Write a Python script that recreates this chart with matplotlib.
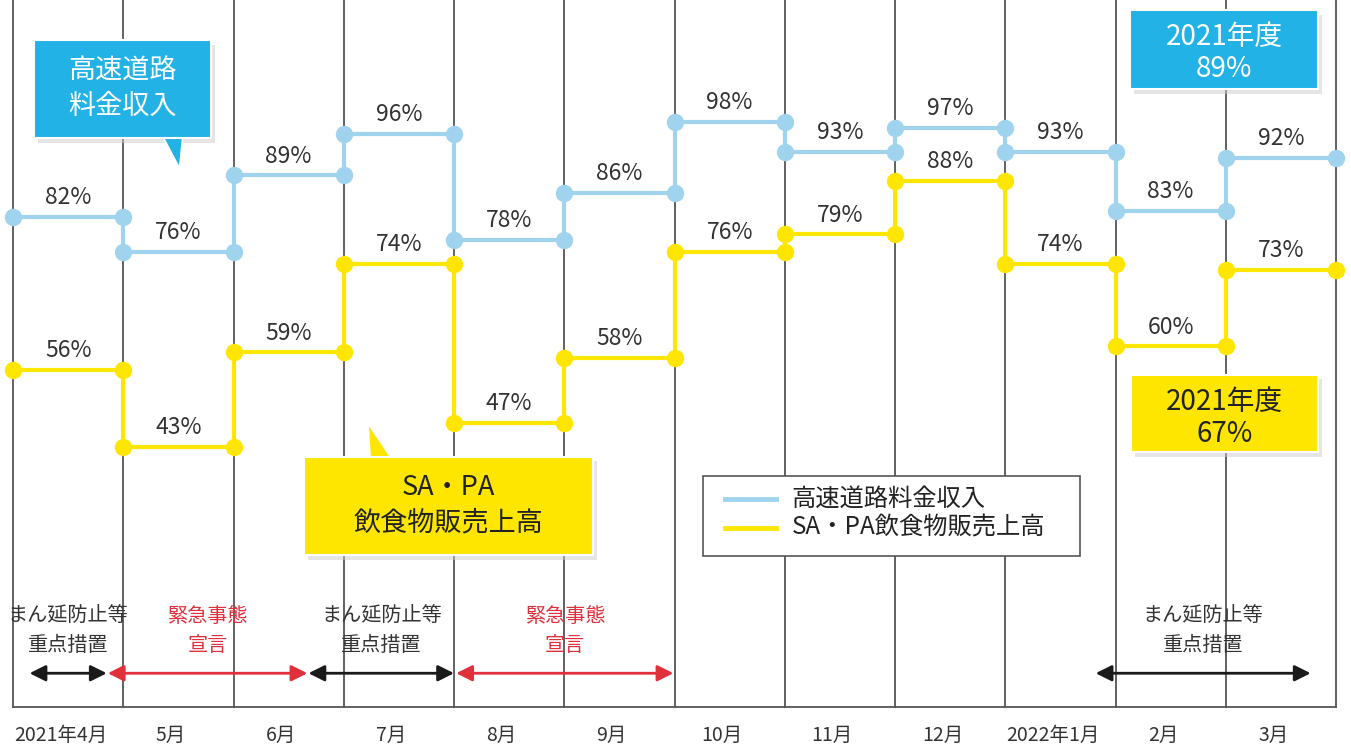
import matplotlib
matplotlib.use("Agg")
import matplotlib.pyplot as plt
from matplotlib.patches import Rectangle, Polygon
from matplotlib.lines import Line2D

plt.rcParams['font.family'] = ['Noto Sans CJK JP', 'DejaVu Sans']

months = ["2021年4月", "5月", "6月", "7月", "8月", "9月", "10月", "11月", "12月",
          "2022年1月", "2月", "3月"]
toll = [82, 76, 89, 96, 78, 86, 98, 93, 97, 93, 83, 92]
sapa = [56, 43, 59, 74, 47, 58, 76, 79, 88, 74, 60, 73]

# periods: (start, end, label, kind)
periods = [(0.15, 0.85, "まん延防止等\n重点措置", "m"),
           (0.86, 2.67, "緊急事態\n宣言", "e"),
           (2.68, 4.0, "まん延防止等\n重点措置", "m"),
           (4.02, 5.99, "緊急事態\n宣言", "e"),
           (9.82, 11.77, "まん延防止等\n重点措置", "m")]

BLUE = "#a0d4ee"
YELLOW = "#ffe600"
BOX_BLUE = "#22b2e6"
RED = "#e0303c"
GRID = "#555555"
TXT = "#333333"

fig = plt.figure(figsize=(13.51, 7.47), dpi=100)
ax = fig.add_axes([0, 0, 1, 1])
ax.set_xlim(-0.118, 12.136)
ax.set_ylim(-7.9, 118.7)
ax.axis('off')

# grid
for i in range(len(months) + 1):
    ax.plot([i, i], [-1.1, 120], color=GRID, lw=1.3, zorder=1)
ax.plot([0, len(months)], [-1.1, -1.1], color=GRID, lw=1.3, zorder=1)


def steps(vals):
    xs, ys = [], []
    for i, v in enumerate(vals):
        xs += [i, i + 1]
        ys += [v, v]
    return xs, ys


for vals, col in [(toll, BLUE), (sapa, YELLOW)]:
    xs, ys = steps(vals)
    ax.plot(xs, ys, color=col, lw=3, zorder=3, solid_capstyle='butt')
    ax.plot(xs, ys, 'o', color=col, ms=11.5, zorder=4)
    for i, v in enumerate(vals):
        ax.text(i + 0.5, v + 1.3, f"{v}%", ha='center', va='bottom',
                fontsize=16.5, color=TXT, zorder=5)

# month labels
for i, m in enumerate(months):
    ax.text(i + 0.43, -5.9, m, ha='center', va='center', fontsize=14, color=TXT)

# period arrows
for s, e, lab, kind in periods:
    col = "#1a1a1a" if kind == "m" else RED
    ax.annotate("", xy=(e, 4.6), xytext=(s, 4.6),
                arrowprops=dict(arrowstyle='<|-|>', color=col, lw=2,
                                mutation_scale=24, shrinkA=0, shrinkB=0),
                zorder=5)
    ax.text((s + e) / 2, 11.7, lab, ha='center', va='center', fontsize=14.5,
            color=TXT if kind == "m" else RED, linespacing=1.5, zorder=5)


def box(x0, x1, y0, y1, fc, ptr=None):
    dx, dy = 0.035, -0.8
    ax.add_patch(Rectangle((x0 + dx, y0 + dy), x1 - x0, y1 - y0, fc='#cccccc',
                           ec='none', alpha=0.5, zorder=6))
    if ptr is not None:
        ax.add_patch(Polygon(ptr, closed=True, fc=fc, ec='white', lw=1.2, zorder=7))
    ax.add_patch(Rectangle((x0, y0), x1 - x0, y1 - y0, fc=fc, ec='white',
                           lw=1.5, zorder=7))


box(0.19, 1.80, 95.3, 111.9, BOX_BLUE, [(1.36, 95.5), (1.54, 95.5), (1.51, 90.2)])
ax.text(0.995, 103.6, "高速道路\n料金収入", ha='center', va='center', fontsize=19.5,
        color='white', linespacing=1.4, zorder=8)

box(2.64, 5.26, 24.6, 41.3, YELLOW, [(3.24, 40.8), (3.44, 40.8), (3.22, 47.0)])
ax.text(3.95, 33.0, "SA・PA\n飲食物販売上高", ha='center', va='center', fontsize=19.5,
        color='#222222', linespacing=1.4, zorder=8)

box(10.13, 11.84, 103.6, 117.0, BOX_BLUE)
ax.text(10.985, 109.7, "2021年度\n89%", ha='center', va='center', fontsize=20,
        color='white', linespacing=1.1, zorder=8)

box(10.14, 11.84, 42.1, 55.2, YELLOW)
ax.text(10.99, 47.9, "2021年度\n67%", ha='center', va='center', fontsize=20,
        color='#222222', linespacing=1.1, zorder=8)

# legend
ax.add_patch(Rectangle((6.26, 24.5), 3.42, 13.5, fc='white', ec=GRID, lw=1.2, zorder=6))
for yv, col, lab in [(34.1, BLUE, "高速道路料金収入"), (29.3, YELLOW, "SA・PA飲食物販売上高")]:
    ax.add_line(Line2D([6.46, 6.92], [yv, yv], color=col, lw=3.5, zorder=7))
    ax.text(7.06, yv, lab, ha='left', va='center', fontsize=17.5, color='#222222', zorder=7)

fig.savefig("out.png", dpi=100)
